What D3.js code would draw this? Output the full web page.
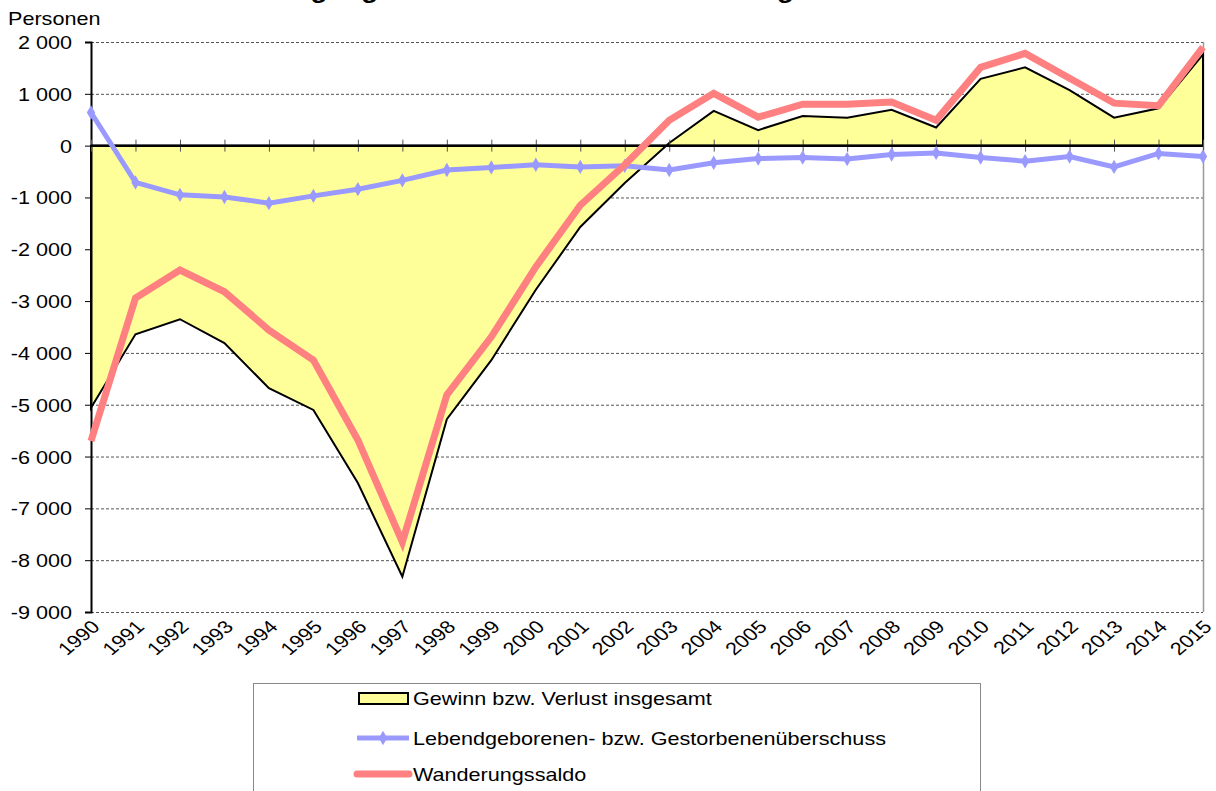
<!DOCTYPE html>
<html>
<head>
<meta charset="utf-8">
<script src="https://cdn.jsdelivr.net/npm/d3@7"></script>
<style>
  body { margin: 0; background: #fff; }
  svg { display: block; font-family: "Liberation Sans", Arial, sans-serif; }
</style>
</head>
<body>
<div class="chart"></div>
<script>
// data
var years = [1990, 1991, 1992, 1993, 1994, 1995, 1996, 1997, 1998, 1999, 2000, 2001, 2002,
             2003, 2004, 2005, 2006, 2007, 2008, 2009, 2010, 2011, 2012, 2013, 2014, 2015];
var gewinn = [-5060, -3640, -3350, -3810, -4680, -5100, -6510, -8320, -5280, -4140, -2780, -1570, -720,
              50, 670, 300, 570, 540, 690, 350, 1290, 1510, 1070, 540, 720, 1760];
var natuerlich = [640, -710, -950, -990, -1110, -970, -840, -670, -470, -420, -370, -410, -390,
                  -470, -330, -250, -230, -260, -170, -140, -230, -300, -210, -410, -150, -210];
var wanderung = [-5700, -2940, -2400, -2820, -3560, -4140, -5680, -7650, -4810, -3690, -2340, -1150, -370,
                 490, 1010, 550, 800, 800, 840, 490, 1510, 1780, 1300, 820, 770, 1900];
var yTicks = [2000, 1000, 0, -1000, -2000, -3000, -4000, -5000, -6000, -7000, -8000, -9000];
var legendLabels = ["Gewinn bzw. Verlust insgesamt",
                    "Lebendgeborenen- bzw. Gestorbenenüberschuss",
                    "Wanderungssaldo"];
var titleText = "Natürliche Bewegung der Einwohner und Wanderungen 1990 – 2015";

// setup
var W = 1216, H = 791;
var plot = {left: 91, right: 1203, top: 42, bottom: 612};
var sx = 1.2; // the picture's text is a little wider than tall

var svg = d3.select(".chart")
    .append("svg")
    .attr("width", W)
    .attr("height", H);

var xScale = d3.scalePoint().domain(years).range([plot.left, plot.right]);
var yScale = d3.scaleLinear().domain([-9000, 2000]).range([plot.bottom, plot.top]);

var fmt = function(v) {
  return d3.format(",")(v).replace(/,/g, " ").replace("−", "-");
};

// clipped title at the top edge
svg.append("text")
    .attr("transform", "translate(96,-2) scale(" + sx + ",1)")
    .attr("font-weight", "bold")
    .attr("font-size", 23)
    .attr("fill", "#000")
    .text(titleText);

// unit label
svg.append("text")
    .attr("transform", "translate(8,25) scale(" + sx + ",1)")
    .attr("font-size", 18)
    .attr("fill", "#000")
    .text("Personen");

// gridlines
svg.append("g")
    .selectAll("line")
    .data(yTicks.filter(function(d) { return d !== 0; }))
    .enter().append("line")
    .attr("x1", plot.left)
    .attr("x2", plot.right)
    .attr("y1", function(d) { return yScale(d) + 0.5; })
    .attr("y2", function(d) { return yScale(d) + 0.5; })
    .style("stroke", "#555")
    .style("stroke-width", 1)
    .style("stroke-dasharray", "3,2");

// right plot border (grey)
svg.append("line")
    .attr("x1", plot.right + 0.5).attr("x2", plot.right + 0.5)
    .attr("y1", plot.top).attr("y2", plot.bottom)
    .style("stroke", "#999")
    .style("stroke-width", 1.5);

// area for gain / loss total
var area = d3.area()
    .x(function(d, i) { return xScale(years[i]); })
    .y0(yScale(0))
    .y1(function(d) { return yScale(d); });

svg.append("path")
    .datum(gewinn)
    .attr("d", area)
    .style("fill", "#FFFF99")
    .style("stroke", "#000")
    .style("stroke-width", 2);

// y axis
var yAxis = d3.axisLeft(yScale)
    .tickValues(yTicks)
    .tickSize(6)
    .tickFormat(fmt);

var gy = svg.append("g")
    .attr("transform", "translate(" + plot.left + ",0)")
    .call(yAxis);
gy.select(".domain").style("stroke", "#000").style("stroke-width", 2);
gy.selectAll(".tick line").style("stroke", "#000");
gy.selectAll("text")
    .attr("x", 0)
    .attr("dy", null)
    .attr("transform", "translate(-19,6.5) scale(" + sx + ",1)")
    .attr("font-size", 18)
    .attr("font-family", "Liberation Sans, Arial, sans-serif")
    .attr("fill", "#000");

// zero line with year ticks
var xAxis = d3.axisBottom(xScale)
    .tickSize(6)
    .tickFormat("");

var gx = svg.append("g")
    .attr("transform", "translate(0," + yScale(0) + ")")
    .call(xAxis);
gx.select(".domain").remove();
gx.selectAll(".tick line")
    .attr("y1", -6)
    .attr("y2", 6)
    .style("stroke", "#555")
    .style("stroke-width", 1);

svg.append("line")
    .attr("x1", plot.left).attr("x2", plot.right)
    .attr("y1", yScale(0)).attr("y2", yScale(0))
    .style("stroke", "#000")
    .style("stroke-width", 2.5);

// year labels, rotated
svg.append("g")
    .selectAll("text")
    .data(years)
    .enter().append("text")
    .attr("transform", function(d) {
      return "translate(" + (xScale(d) + 10) + "," + (plot.bottom + 16) + ") scale(" + sx + ",1) rotate(-45)";
    })
    .attr("text-anchor", "end")
    .attr("font-size", 18)
    .attr("fill", "#000")
    .text(function(d) { return d; });

// line for natural change
var line = d3.line()
    .x(function(d, i) { return xScale(years[i]); })
    .y(function(d) { return yScale(d); });

svg.append("path")
    .datum(natuerlich)
    .attr("d", line)
    .style("fill", "none")
    .style("stroke", "#9999FF")
    .style("stroke-width", 5);

var diamond = d3.symbol().type(d3.symbolDiamond).size(60);

svg.selectAll(".natdot")
    .data(natuerlich)
    .enter().append("path")
    .attr("class", "natdot")
    .attr("d", diamond)
    .attr("transform", function(d, i) {
      return "translate(" + xScale(years[i]) + "," + yScale(d) + ")";
    })
    .style("fill", "#9999FF");

// line for migration balance
svg.append("path")
    .datum(wanderung)
    .attr("d", line)
    .style("fill", "none")
    .style("stroke", "#FF8080")
    .style("stroke-width", 7);

// legend
var lg = svg.append("g");

lg.append("rect")
    .attr("x", 253.5)
    .attr("y", 683.5)
    .attr("width", 727)
    .attr("height", 130)
    .style("fill", "#fff")
    .style("stroke", "#888")
    .style("stroke-width", 1);

var rowY = [698, 738, 774];

lg.append("rect")
    .attr("x", 359)
    .attr("y", rowY[0] - 5)
    .attr("width", 49)
    .attr("height", 11)
    .style("fill", "#FFFF99")
    .style("stroke", "#000")
    .style("stroke-width", 2);

lg.append("line")
    .attr("x1", 357).attr("x2", 409)
    .attr("y1", rowY[1]).attr("y2", rowY[1])
    .style("stroke", "#9999FF")
    .style("stroke-width", 5);

lg.append("path")
    .attr("d", diamond)
    .attr("transform", "translate(383," + rowY[1] + ")")
    .style("fill", "#9999FF");

lg.append("line")
    .attr("x1", 357).attr("x2", 409)
    .attr("y1", rowY[2]).attr("y2", rowY[2])
    .style("stroke", "#FF8080")
    .style("stroke-width", 7)
    .style("stroke-linecap", "round");

lg.selectAll(".legend-text")
    .data(legendLabels)
    .enter().append("text")
    .attr("class", "legend-text")
    .attr("transform", function(d, i) {
      return "translate(413," + (rowY[i] + 6.5) + ") scale(" + sx + ",1)";
    })
    .attr("font-size", 18)
    .attr("fill", "#000")
    .text(function(d) { return d; });
</script>
</body>
</html>
